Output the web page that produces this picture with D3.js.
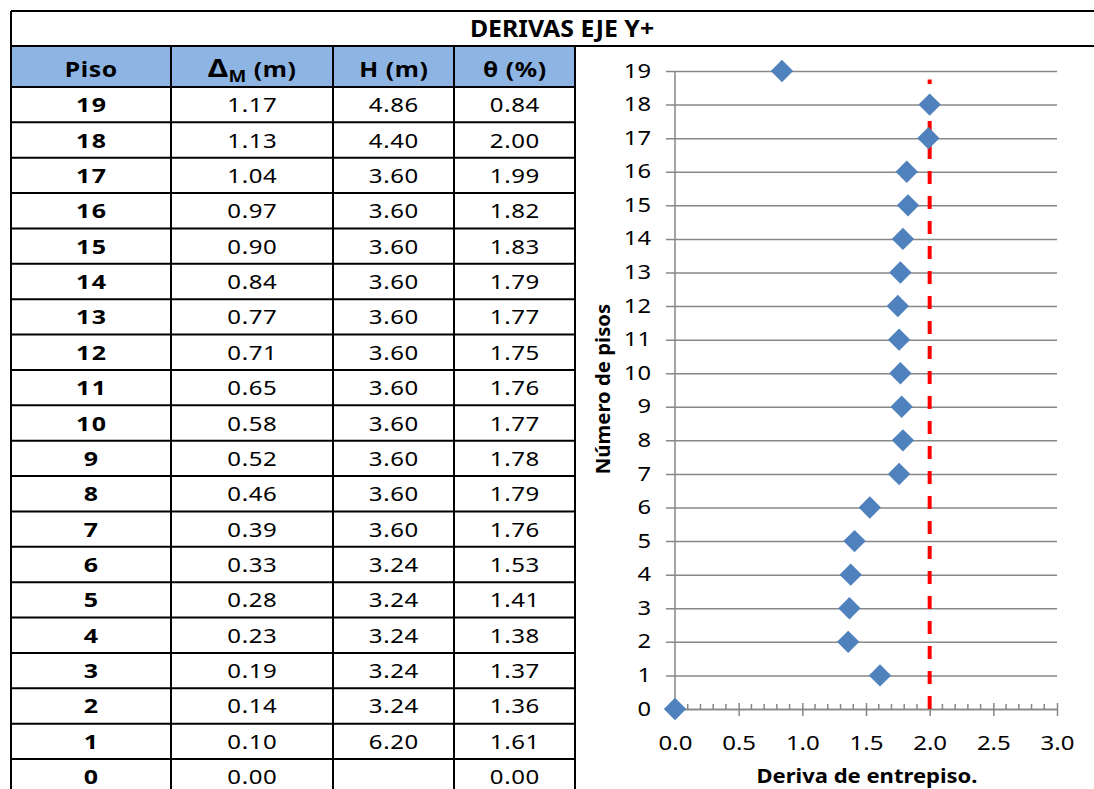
<!DOCTYPE html>
<html><head><meta charset="utf-8">
<script src="https://cdn.jsdelivr.net/npm/d3@7/dist/d3.min.js"></script>
<style>
html,body{margin:0;padding:0;background:#fff;}
svg{display:block;}
text{font-family:"Noto Sans",sans-serif;}
</style></head>
<body>
<svg id="c" width="1094" height="789"></svg>
<script>
// ---- data ----
const title = "DERIVAS EJE Y+";
const pisos = [19,18,17,16,15,14,13,12,11,10,9,8,7,6,5,4,3,2,1,0];
const deltaM = ["1.17","1.13","1.04","0.97","0.90","0.84","0.77","0.71","0.65","0.58","0.52","0.46","0.39","0.33","0.28","0.23","0.19","0.14","0.10","0.00"];
const alturas = ["4.86","4.40","3.60","3.60","3.60","3.60","3.60","3.60","3.60","3.60","3.60","3.60","3.60","3.24","3.24","3.24","3.24","3.24","6.20",""];
const theta = [0.84,2.00,1.99,1.82,1.83,1.79,1.77,1.75,1.76,1.77,1.78,1.79,1.76,1.53,1.41,1.38,1.37,1.36,1.61,0.00];
const xTicks = [0,0.5,1,1.5,2,2.5,3];
const yTicks = d3.range(0,20);
const limite = 2.0;
const limiteTop = 18.75;
const xTitle = "Deriva de entrepiso.";
const yTitle = "Número de pisos";

const svg = d3.select("#c");

// text stretched horizontally (to mimic the wide rendering of the original)
function sText(parent, x, y, sx, opts){
  const g = parent.append("g").attr("transform",`translate(${x},${y})${opts.rotate?` rotate(${opts.rotate})`:""} scale(${sx},1)`);
  const t = g.append("text").attr("x",0).attr("y",0).attr("text-anchor",opts.anchor||"middle")
    .attr("font-size",opts.size).attr("font-weight",opts.bold?"bold":"normal").attr("fill","#000");
  if(opts.ls) t.attr("letter-spacing",opts.ls).attr("dx",opts.ls/2);
  if(opts.text!==undefined) t.text(opts.text);
  return t;
}

// ---- table ----
const colX = [11,171,333,454,575];
const titleTop = 11, titleBot = 46, headBot = 87, rowH = 35.37;
const tbl = svg.append("g");
tbl.append("rect").attr("x",colX[0]).attr("y",titleBot).attr("width",colX[4]-colX[0]).attr("height",headBot-titleBot).attr("fill","#8db4e2");
tbl.append("line").attr("x1",colX[0]).attr("x2",1094).attr("y1",titleTop).attr("y2",titleTop).attr("stroke","#000").attr("stroke-width",2);
tbl.append("line").attr("x1",colX[0]).attr("x2",1094).attr("y1",titleBot).attr("y2",titleBot).attr("stroke","#000").attr("stroke-width",2);
for(let i=0;i<=pisos.length;i++){
  const yy = headBot + i*rowH;
  tbl.append("line").attr("x1",colX[0]).attr("x2",colX[4]).attr("y1",yy).attr("y2",yy).attr("stroke","#000").attr("stroke-width",2);
}
const tableBottom = headBot + pisos.length*rowH;
tbl.append("line").attr("x1",colX[0]).attr("x2",colX[0]).attr("y1",titleTop).attr("y2",tableBottom).attr("stroke","#000").attr("stroke-width",2);
colX.slice(1).forEach(xx=>{
  tbl.append("line").attr("x1",xx).attr("x2",xx).attr("y1",titleBot).attr("y2",tableBottom).attr("stroke","#000").attr("stroke-width",2);
});
sText(tbl, 562, 37, 1.08, {size:23, bold:true, text:title});

const centers = colX.slice(0,4).map((xx,i)=>(xx+colX[i+1])/2);
const hy = 77;
sText(tbl, centers[0], hy, 1.18, {size:21, bold:true, ls:0.5, text:"Piso"});
const dh = sText(tbl, centers[1], hy, 1.18, {size:21, bold:true, ls:0.5});
dh.append("tspan").text("Δ").attr("font-size",25);
dh.append("tspan").text("M").attr("font-size",16).attr("dy",5);
dh.append("tspan").text(" (m)").attr("dy",-5);
sText(tbl, centers[2], hy, 1.18, {size:21, bold:true, ls:0.5, text:"H (m)"});
sText(tbl, centers[3], hy, 1.18, {size:21, bold:true, ls:0.5, text:"θ (%)"});

pisos.forEach((p,i)=>{
  const yy = headBot + i*rowH + rowH/2 + 7.5;
  const cells = [String(p), deltaM[i], alturas[i], theta[i].toFixed(2)];
  cells.forEach((t,j)=>{
    if(t==="") return;
    sText(tbl, centers[j], yy, j===0?1.25:1.2, {size:20, bold:j===0, ls:j===0?1:0.5, text:t});
  });
});

// ---- chart ----
const x = d3.scaleLinear().domain([0,3]).range([675,1057]);
const y = d3.scaleLinear().domain([0,19]).range([709,71]);
const axisCol = "#878787";
const ch = svg.append("g");

const yAxis = d3.axisLeft(y).tickValues(yTicks).tickSize(-(x(3)-x(0))).tickSizeOuter(0).tickPadding(22).tickFormat(d3.format("d"));
const gy = ch.append("g").attr("transform",`translate(${x(0)},0)`).call(yAxis);
gy.select(".domain").remove();
gy.selectAll(".tick line").attr("stroke",axisCol).attr("stroke-width",1.5).attr("x1",-9);
gy.selectAll(".tick text").attr("font-size",19).attr("fill","#000").attr("font-family","Noto Sans")
  .attr("x",0).attr("transform","translate(-24,0) scale(1.25,1)");
ch.append("line").attr("x1",x(0)).attr("x2",x(0)).attr("y1",y(0)).attr("y2",y(19)).attr("stroke",axisCol).attr("stroke-width",1.5);

const xAxis = d3.axisBottom(x).tickValues(xTicks).tickSize(7).tickSizeOuter(0).tickPadding(20).tickFormat(d3.format(".1f"));
const gx = ch.append("g").attr("transform",`translate(0,${y(0)})`).call(xAxis);
gx.select(".domain").attr("stroke",axisCol).attr("stroke-width",1.5);
gx.selectAll(".tick line").attr("stroke",axisCol).attr("stroke-width",1.5).attr("y1",-6);
gx.selectAll(".tick text").attr("font-size",20).attr("fill","#000").attr("font-family","Noto Sans")
  .attr("transform","scale(1.2,1)");
const minor = d3.range(0,31).map(d=>d/10).filter(v=>Math.abs(v*2-Math.round(v*2))>1e-6);
ch.append("g").selectAll("line").data(minor).join("line")
  .attr("x1",d=>x(d)).attr("x2",d=>x(d)).attr("y1",y(0)-5).attr("y2",y(0))
  .attr("stroke",axisCol).attr("stroke-width",1.5);

ch.append("line").attr("x1",x(limite)).attr("x2",x(limite)).attr("y1",y(0)).attr("y2",y(limiteTop))
  .attr("stroke","#ff0000").attr("stroke-width",4).attr("stroke-dasharray","13,12");

const diamond = d3.symbol().type(d3.symbolSquare).size(250);
ch.append("g").selectAll("path").data(pisos.map((p,i)=>({p, v:theta[i]}))).join("path")
  .attr("d",diamond)
  .attr("transform",d=>`translate(${x(d.v)},${y(d.p)}) rotate(45)`)
  .attr("fill","#4f81bd");

sText(ch, 867, 783, 1.16, {size:19, bold:true, text:xTitle});
sText(ch, 610, 389, 1.07, {size:19, bold:true, rotate:-90, text:yTitle});
</script>
</body></html>
